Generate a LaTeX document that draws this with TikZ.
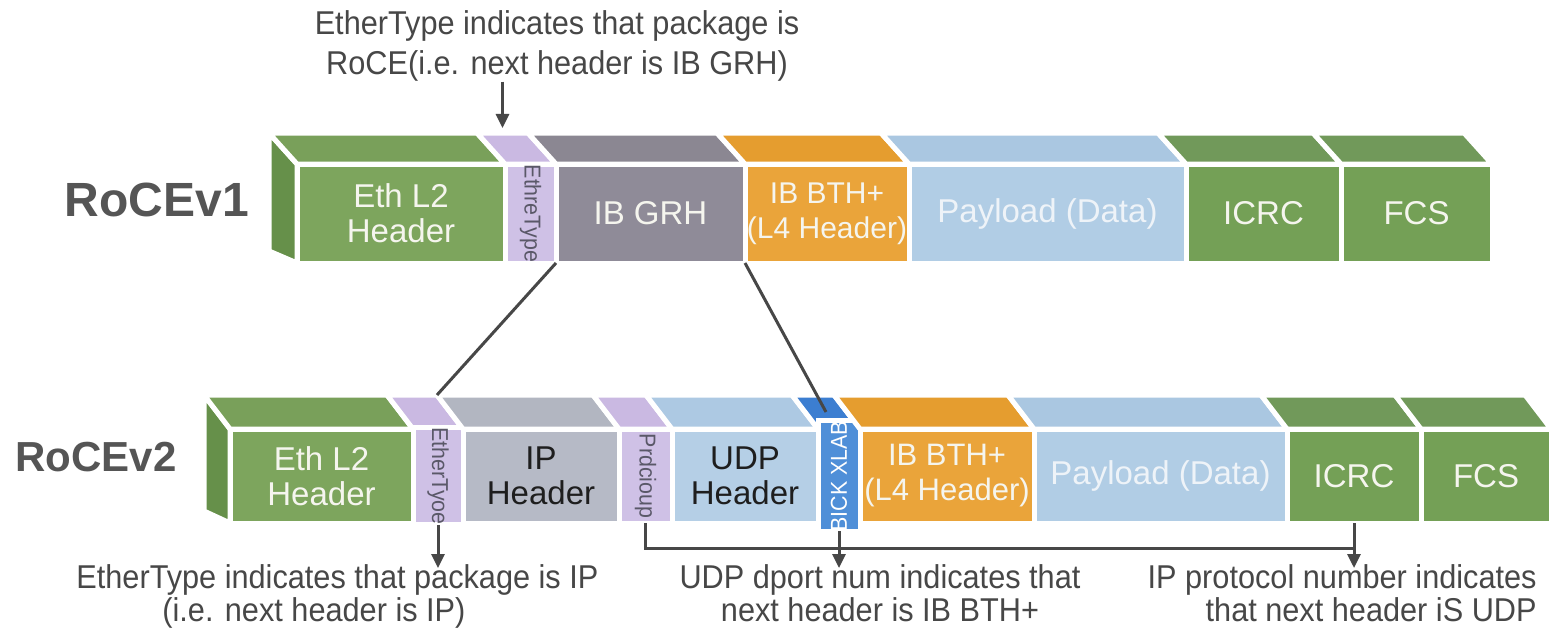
\documentclass[tikz,border=0pt]{standalone}
\usepackage{fontspec}
\setmainfont{Liberation Sans}
\newfontfamily\narrow[FakeStretch=0.93]{Liberation Sans}
\usepackage{graphicx}
\usetikzlibrary{arrows.meta}
\definecolor{gfront}{HTML}{7DA55D}
\definecolor{gtop}{HTML}{79A05A}
\definecolor{gside}{HTML}{66904A}
\definecolor{gfront2}{HTML}{74A056}
\definecolor{gtop2}{HTML}{71995A}
\definecolor{lav}{HTML}{CFC1E6}
\definecolor{lavtop}{HTML}{CAB9E2}
\definecolor{grh}{HTML}{8F8B98}
\definecolor{grhtop}{HTML}{8B8792}
\definecolor{orng}{HTML}{EAA43A}
\definecolor{ortop}{HTML}{E59D2F}
\definecolor{pay}{HTML}{B1CDE5}
\definecolor{paytop}{HTML}{AAC7E1}
\definecolor{ipg}{HTML}{B6BAC6}
\definecolor{iptop}{HTML}{B2B6C1}
\definecolor{udp}{HTML}{B5CFE6}
\definecolor{udptop}{HTML}{ADC9E3}
\definecolor{blu}{HTML}{4F8FD8}
\definecolor{blutop}{HTML}{3C7ED1}
\definecolor{ink}{HTML}{474747}
\definecolor{rowc}{HTML}{555555}
\definecolor{lbltext}{HTML}{F5F5EE}
\definecolor{paytext}{HTML}{EEF3F8}
\definecolor{darktext}{HTML}{1E1E1E}
\definecolor{strtext}{HTML}{5A5868}
\newcommand\strfont{\narrow\fontsize{11.5}{12}\selectfont}
\newcommand\seg[6]{%
  \fill[face,fill=#4] (#2,\ya) -- ({#2+(\ddx)},{\ya+(\ddy)}) -- ({#3+(\ddx)},{\ya+(\ddy)}) -- (#3,\ya) -- cycle;
  \node[front,#5,minimum width={(#3-#2)*0.5pt},minimum height={(\yb-\ya)*0.5pt}] (#1) at ({(#2+#3)/2},{(\ya+\yb)/2}) {#6};
  \coordinate (#1-tc) at ({(#2+#3)/2+(\ddx)/2},{\ya+(\ddy)/2});
  \coordinate (#1-tt) at ({(#2+#3)/2+(\ddx)},{\ya+(\ddy)});
  \coordinate (#1-bl) at ({#2+(\ddx)},{\ya+(\ddy)});
}
\newcommand\sideface[2]{%
  \fill[face,fill=#2] (#1,\ya) -- ({#1+(\ddx)},{\ya+(\ddy)}) -- ({#1+(\ddx)},{\yb-12}) -- (#1,\yb) -- cycle;
}
\tikzset{
  face/.style={draw=white,line width=2.5pt,line join=round},
  front/.style={draw=white,line width=2.5pt,outer sep=0pt,inner sep=0pt,align=center,
    font=\fontsize{16.5}{17.5}\selectfont,text=lbltext},
  ann/.style={font=\narrow\fontsize{16.5}{20}\selectfont,text=ink,inner sep=0pt},
  annb/.style={font=\narrow\fontsize{16.5}{16.5}\selectfont,text=ink,inner sep=0pt},
  conn/.style={draw=ink,line width=1.5pt},
  arr/.style={conn,-{Triangle[width=6.5pt,length=7pt]}},
  rowlbl/.style={font=\bfseries,text=rowc,inner sep=0pt}
}
\begin{document}
\begin{tikzpicture}[x=0.5pt,y=-0.5pt]
\useasboundingbox (0,0) rectangle (1556,631);
\fill[white] (0,0) rectangle (1556,631);

% row labels
\node[rowlbl,font=\bfseries\fontsize{24}{28}\selectfont] (r1) at (157,200) {RoCEv1};
\node[rowlbl,font=\bfseries\fontsize{21}{25}\selectfont] (r2) at (96,457) {RoCEv2};

% ---------- RoCEv1 ----------
\def\ya{164}\def\yb{263}\def\ddx{-28}\def\ddy{-31}
\sideface{297}{gside}
\seg{t-eth}{297}{505}{gtop}{fill=gfront}{Eth L2\\Header}
\seg{t-et}{505}{556}{lavtop}{fill=lav,text=strtext}{\rotatebox{-90}{\strfont EthreType}}
\seg{t-grh}{556}{745}{grhtop}{fill=grh}{IB GRH}
\seg{t-bth}{745}{909}{ortop}{fill=orng,font=\fontsize{15}{17.5}\selectfont}{IB BTH+\\(L4 Header)}
\seg{t-pay}{909}{1186}{paytop}{fill=pay,text=paytext}{Payload (Data)}
\seg{t-icrc}{1186}{1341}{gtop2}{fill=gfront2}{ICRC}
\seg{t-fcs}{1341}{1492}{gtop2}{fill=gfront2}{FCS}

% ---------- RoCEv2 ----------
\def\ya{429}\def\yb{523}\def\ddx{-26}\def\ddy{-34}
\sideface{230}{gside}
\seg{b-eth}{230}{413}{gtop}{fill=gfront}{Eth L2\\Header}
\seg{b-et}{413}{463}{lavtop}{fill=lav,text=strtext}{\rotatebox{-90}{\strfont EtherTyoe}}
\seg{b-ip}{463}{619}{iptop}{fill=ipg,text=darktext}{IP\\Header}
\seg{b-pr}{619}{672}{lavtop}{fill=lav,text=strtext}{\rotatebox{-90}{\strfont Prdcioup}}
\seg{b-udp}{672}{818}{udptop}{fill=udp,text=darktext}{UDP\\Header}
\seg{b-blue}{818}{860}{blutop}{fill=blu,text=white}{\rotatebox{90}{\strfont BICK XLAB}}
\seg{b-bth}{860}{1034}{ortop}{fill=orng,font=\fontsize{15.5}{17.5}\selectfont}{IB BTH+\\(L4 Header)}
\seg{b-pay}{1034}{1287}{paytop}{fill=pay,text=paytext}{Payload (Data)}
\seg{b-icrc}{1287}{1421}{gtop2}{fill=gfront2}{ICRC}
\seg{b-fcs}{1421}{1551}{gtop2}{fill=gfront2}{FCS}

% ---------- annotations ----------
\node[ann,anchor=north,align=center] (annTop) at (557,10)
  {EtherType indicates that package is\\RoCE(i.e. next header is IB GRH)};
\node[annb,anchor=north west,align=left] (annL) at (76,564)
  {EtherType indicates that package is IP\\\hspace*{43pt}(i.e. next header is IP)};
\node[annb,anchor=north,align=center] (annM) at (880,564)
  {UDP dport num indicates that\\next header is IB BTH+};
\node[annb,anchor=north east,align=right] (annR) at (1537,564)
  {IP protocol number indicates\\that next header iS UDP};

% ---------- connectors ----------
\draw[arr] (t-et-tt |- annTop.south) -- ([yshift=2.5pt]t-et-tt);
\draw[conn] (t-grh.south west) -- (b-ip-bl);
\draw[conn] (t-grh.south east) -- (b-blue-tc);
\draw[arr] (b-et.south) -- ([yshift=-2pt]b-et.south |- annL.north);
\coordinate (brk) at (0,548);
\draw[conn] (b-pr.south) -- (b-pr.south |- brk) -- (b-icrc.south |- brk);
\draw[arr] (b-blue.south) -- ([yshift=-2pt]b-blue.south |- annM.north);
\draw[arr] (b-icrc.south) -- ([yshift=-2pt]b-icrc.south |- annR.north);
\end{tikzpicture}
\end{document}
